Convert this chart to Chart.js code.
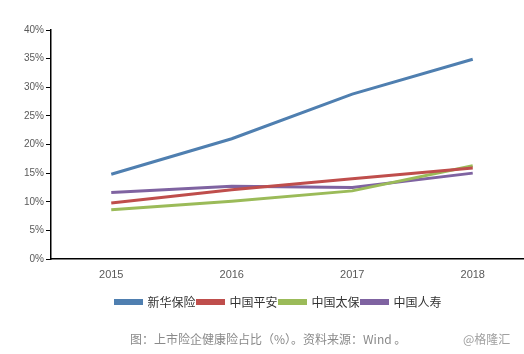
<!DOCTYPE html>
<html>
<head>
<meta charset="utf-8">
<script src="https://cdn.jsdelivr.net/npm/chart.js@4/dist/chart.umd.min.js"></script>
<style>
  html, body { margin: 0; padding: 0; background: #fff; }
  #wrap { position: relative; width: 524px; height: 354px; overflow: hidden; }
  #caption { position: absolute; left: 130px; top: 330px; font: 12px "Noto Sans CJK SC", sans-serif; color: #8a8a8a; white-space: nowrap; }
  #mark { position: absolute; left: 463px; top: 330px; font: 12px "Noto Sans CJK SC", sans-serif; color: #a0a0a0; }
</style>
</head>
<body>
<div id="wrap">
  <canvas id="myChart" width="533" height="354"></canvas>
  <div id="caption">图：上市险企健康险占比（%）。资料来源：Wind 。</div>
  <div id="mark">@格隆汇</div>
</div>
<script>
// data (percent)
const years = ['2015', '2016', '2017', '2018'];
const xinhua = [14.8, 21.0, 28.8, 34.9];
const pingan = [9.8, 12.1, 14.0, 15.9];
const taibao = [8.6, 10.1, 11.9, 16.3];
const renshou = [11.6, 12.7, 12.5, 15.0];
const names = ['新华保险', '中国平安', '中国太保', '中国人寿'];
const colors = ['#4f7fb0', '#bf4e4c', '#9bbb59', '#7f63a1'];
const yTicks = [0, 5, 10, 15, 20, 25, 30, 35, 40];

const series = [xinhua, pingan, taibao, renshou];

// nudge the legend a bit right, like the original
const legendShift = {
  id: 'legendShift',
  afterLayout(chart) {
    chart.legend.left += 12;
    chart.legend.right += 12;
  }
};

new Chart(document.getElementById('myChart'), {
  type: 'line',
  data: {
    labels: years,
    datasets: series.map((vals, i) => ({
      label: names[i],
      data: vals,
      borderColor: colors[i],
      backgroundColor: colors[i],
      borderWidth: 3,
      pointRadius: 0,
      tension: 0,
      fill: false
    }))
  },
  options: {
    responsive: false,
    animation: false,
    layout: { padding: { top: 30, left: 0, right: 0, bottom: 36 } },
    plugins: {
      legend: {
        position: 'bottom',
        labels: {
          boxWidth: 26,
          boxHeight: 3,
          padding: 2,
          color: '#333',
          font: { family: '"Noto Sans CJK SC", sans-serif', size: 12 }
        }
      },
      tooltip: { enabled: false }
    },
    scales: {
      x: {
        offset: true,
        grid: { display: true, drawOnChartArea: false, drawTicks: false },
        border: { color: '#000', width: 1.5 },
        ticks: { color: '#595959', padding: 9, font: { family: 'Liberation Sans, sans-serif', size: 11 } },
        afterFit: s => { s.height = 35; }
      },
      y: {
        min: 0,
        max: 40,
        afterBuildTicks: s => { s.ticks = yTicks.map(v => ({ value: v })); },
        grid: { display: true, drawOnChartArea: false, tickLength: 5, color: '#000' },
        border: { color: '#000', width: 1.5 },
        ticks: {
          color: '#595959',
          padding: 2,
          font: { family: 'Liberation Sans, sans-serif', size: 10 },
          callback: v => v + '%'
        },
        afterFit: s => { s.width = 51; }
      }
    }
  },
  plugins: [legendShift]
});
</script>
</body>
</html>
